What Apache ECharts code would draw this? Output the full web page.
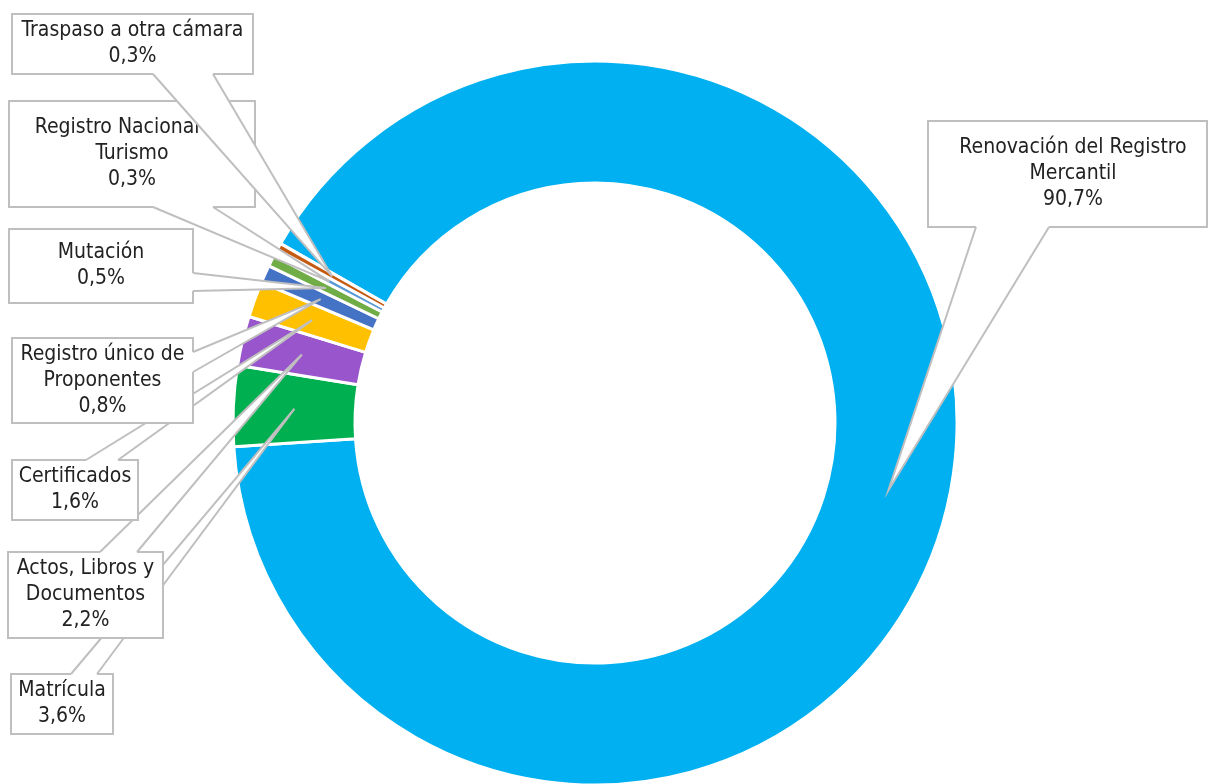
<!DOCTYPE html>
<html>
<head>
<meta charset="utf-8">
<script src="https://cdn.jsdelivr.net/npm/echarts@6/dist/echarts.min.js"></script>
<style>
  html, body { margin: 0; padding: 0; background: #ffffff; }
  #chart { width: 1208px; height: 784px; }
</style>
</head>
<body>
<div id="chart"></div>
<script>
// Participación de cada trámite en el total
const categories = [
  'Renovación del Registro\nMercantil',
  'Matrícula',
  'Actos, Libros y\nDocumentos',
  'Certificados',
  'Registro único de\nProponentes',
  'Mutación',
  'Registro Nacional de\nTurismo',
  'Traspaso a otra cámara'
];
const shares = [90.7, 3.6, 2.2, 1.6, 0.8, 0.5, 0.3, 0.3];
const sliceColors = ['#00B0F0', '#00B050', '#9955CC', '#FFC000', '#4472C4', '#70AD47', '#5B9BD5', '#C55A11'];

// Callout boxes: [left, top, right, bottom], the side the pointer leaves from,
// and the two points along that side where the pointer is attached.
const callouts = [
  { box: [928, 121, 1207, 227], edge: 'bottom', base: [976, 1049], textX: 1073 },
  { box: [11, 674, 113, 734], edge: 'top', base: [71, 97] },
  { box: [8, 552, 163, 638], edge: 'top', base: [100, 137] },
  { box: [12, 460, 138, 520], edge: 'top', base: [86, 118] },
  { box: [12, 338, 193, 423], edge: 'right', base: [352, 372] },
  { box: [9, 229, 193, 303], edge: 'right', base: [273, 291] },
  { box: [9, 101, 255, 207], edge: 'bottom', base: [153, 213] },
  { box: [12, 14, 253, 74], edge: 'bottom', base: [153, 213] }
];

const FONT_FAMILY = '"DejaVu Sans Condensed", "Liberation Sans", sans-serif';
const LINE_H = 26;
const BORDER = '#BFBFBF';
const TEXT = '#222222';

const fmtPct = v => v.toFixed(1).replace('.', ',') + '%';

const chart = echarts.init(document.getElementById('chart'), null, { renderer: 'canvas' });

chart.setOption({
  animation: false,
  series: [{
    type: 'pie',
    center: [595, 423],
    radius: [240, 362],
    startAngle: 150.3,
    clockwise: true,
    silent: true,
    label: { show: false },
    labelLine: { show: false },
    itemStyle: { borderColor: '#ffffff', borderWidth: 3 },
    data: categories.map((name, i) => ({
      name: name,
      value: shares[i],
      itemStyle: { color: sliceColors[i] }
    }))
  }]
});

// Callouts: a white box with the label and a wedge pointing into the middle of the ring
const pieData = chart.getModel().getSeriesByIndex(0).getData();
const elements = [];

callouts.forEach((c, i) => {
  const lay = pieData.getItemLayout(i);
  const mid = (lay.startAngle + lay.endAngle) / 2;
  const rm = (lay.r + lay.r0) / 2;
  const tip = [lay.cx + rm * Math.cos(mid), lay.cy + rm * Math.sin(mid)];

  const [l, t, r, b] = c.box;
  let p1, p2, inward;
  if (c.edge === 'bottom') { p1 = [c.base[0], b]; p2 = [c.base[1], b]; inward = [0, -2]; }
  else if (c.edge === 'top') { p1 = [c.base[0], t]; p2 = [c.base[1], t]; inward = [0, 2]; }
  else { p1 = [r, c.base[0]]; p2 = [r, c.base[1]]; inward = [-2, 0]; }

  const z = 10 + i * 3;
  const text = categories[i] + '\n' + fmtPct(shares[i]);
  const nLines = text.split('\n').length;
  const cx = c.textX != null ? c.textX : (l + r) / 2;

  elements.push({
    type: 'rect', z: z, silent: true,
    shape: { x: l, y: t, width: r - l, height: b - t },
    style: { fill: '#ffffff', stroke: BORDER, lineWidth: 2 }
  });
  elements.push({
    type: 'text', z: z + 1, silent: true,
    x: cx, y: t + (b - t - nLines * LINE_H) / 2,
    style: {
      text: text, fill: TEXT, fontSize: 21, fontFamily: FONT_FAMILY,
      align: 'center', verticalAlign: 'top', lineHeight: LINE_H
    }
  });
  elements.push({
    type: 'polygon', z: z + 2, silent: true,
    shape: { points: [
      [p1[0] + inward[0], p1[1] + inward[1]], p1, tip, p2,
      [p2[0] + inward[0], p2[1] + inward[1]]
    ] },
    style: { fill: '#ffffff' }
  });
  elements.push({
    type: 'polyline', z: z + 2, silent: true,
    shape: { points: [p1, tip, p2] },
    style: { stroke: BORDER, lineWidth: 2, fill: null }
  });
});

chart.setOption({ graphic: { elements: elements } });
</script>
</body>
</html>
